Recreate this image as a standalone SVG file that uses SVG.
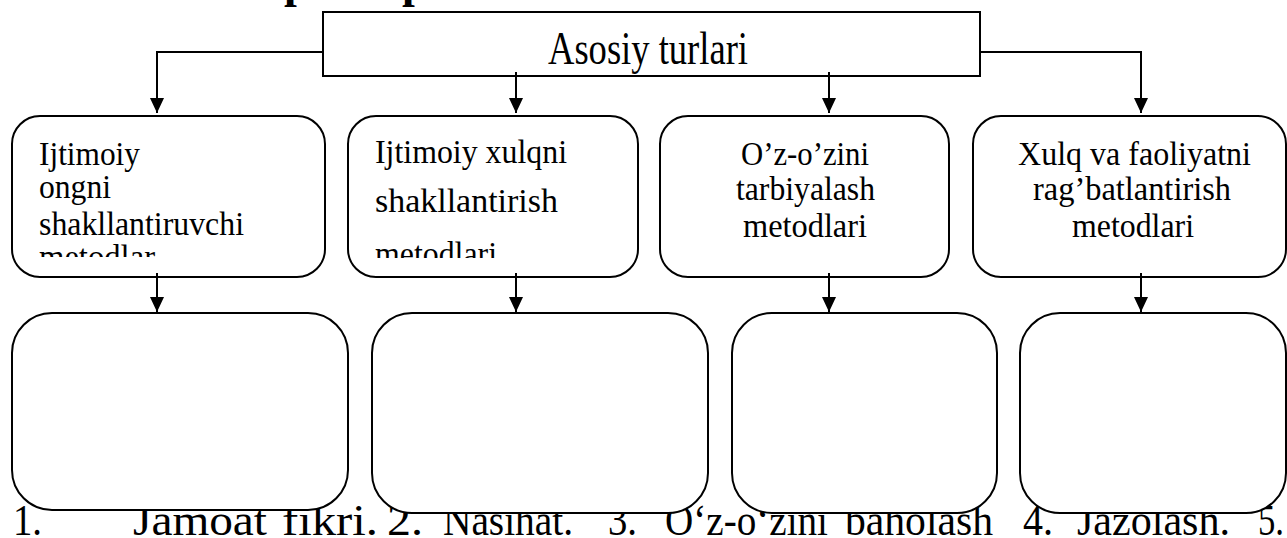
<svg xmlns="http://www.w3.org/2000/svg" width="1287" height="538" viewBox="0 0 1287 538">
<style>
.t{font-family:"Liberation Serif","Times New Roman",serif;fill:#000}
.r1{font-size:34px}
.bt{font-size:44px}
.box{fill:#fff;stroke:#000;stroke-width:2}
.ln{fill:none;stroke:#000;stroke-width:2;marker-end:url(#ah)}
</style>
<defs>
<marker id="ah" markerUnits="userSpaceOnUse" viewBox="0 0 15 14" markerWidth="15" markerHeight="14" refX="15" refY="7" orient="auto">
<path d="M0,0 L15,7 L0,14 z" fill="#000"/>
</marker>
<clipPath id="c1"><rect x="0" y="100" width="1287" height="157"/></clipPath>
<clipPath id="c2"><rect x="0" y="100" width="1287" height="158"/></clipPath>
</defs>
<rect width="1287" height="538" fill="#fff"/>

<g id="bottom-text" class="t bt">
<text x="13" y="535" textLength="29" lengthAdjust="spacingAndGlyphs">1.</text>
<text x="133" y="535" textLength="134" lengthAdjust="spacingAndGlyphs">Jamoat</text>
<text x="282" y="535" textLength="96" lengthAdjust="spacingAndGlyphs">fikri.</text>
<text x="387" y="535" textLength="36" lengthAdjust="spacingAndGlyphs">2.</text>
<text x="443" y="535" textLength="130" lengthAdjust="spacingAndGlyphs">Nasihat.</text>
<text x="608" y="535" textLength="29" lengthAdjust="spacingAndGlyphs">3.</text>
<text x="665" y="535" textLength="163" lengthAdjust="spacingAndGlyphs">O‘z-o‘zini</text>
<text x="845" y="535" textLength="148" lengthAdjust="spacingAndGlyphs">baholash</text>
<text x="1023" y="535" textLength="30" lengthAdjust="spacingAndGlyphs">4.</text>
<text x="1077" y="535" textLength="153" lengthAdjust="spacingAndGlyphs">Jazolash.</text>
<text x="1258" y="535" textLength="26" lengthAdjust="spacingAndGlyphs">5.</text>
</g>

<g id="heading-fragment" class="t" style="font-size:46px;font-weight:bold">
<text x="284" y="-3">p</text>
<text x="402" y="-3">p</text>
</g>

<g id="root">
<rect class="box" x="323" y="12" width="657" height="64"/>
<text class="t" x="548" y="64" style="font-size:46px" textLength="200" lengthAdjust="spacingAndGlyphs">Asosiy turlari</text>
</g>

<g id="n1">
<rect class="box" x="12" y="116" width="313" height="161" rx="28" ry="28"/>
<g class="t r1" clip-path="url(#c1)">
<text x="39" y="165" textLength="101" lengthAdjust="spacingAndGlyphs">Ijtimoiy</text>
<text x="39" y="198" textLength="72" lengthAdjust="spacingAndGlyphs">ongni</text>
<text x="39" y="235" textLength="205" lengthAdjust="spacingAndGlyphs">shakllantiruvchi</text>
<text x="39" y="268" textLength="116" lengthAdjust="spacingAndGlyphs">metodlar</text>
</g>
</g>

<g id="n2">
<rect class="box" x="348" y="116" width="290" height="161" rx="28" ry="28"/>
<g class="t r1" clip-path="url(#c2)">
<text x="375" y="163" textLength="192" lengthAdjust="spacingAndGlyphs">Ijtimoiy xulqni</text>
<text x="375" y="212" textLength="183" lengthAdjust="spacingAndGlyphs">shakllantirish</text>
<text x="375" y="265" textLength="122" lengthAdjust="spacingAndGlyphs">metodlari</text>
</g>
</g>

<g id="n3">
<rect class="box" x="660" y="116" width="289" height="161" rx="28" ry="28"/>
<g class="t r1">
<text x="741" y="165" textLength="128" lengthAdjust="spacingAndGlyphs">O’z-o’zini</text>
<text x="736" y="200" textLength="139" lengthAdjust="spacingAndGlyphs">tarbiyalash</text>
<text x="743" y="237" textLength="124" lengthAdjust="spacingAndGlyphs">metodlari</text>
</g>
</g>

<g id="n4">
<rect class="box" x="973" y="116" width="313" height="161" rx="28" ry="28"/>
<g class="t r1">
<text x="1018" y="165" textLength="233" lengthAdjust="spacingAndGlyphs">Xulq va faoliyatni</text>
<text x="1033" y="200" textLength="198" lengthAdjust="spacingAndGlyphs">rag’batlantirish</text>
<text x="1072" y="237" textLength="122" lengthAdjust="spacingAndGlyphs">metodlari</text>
</g>
</g>

<g id="m1"><rect class="box" x="12" y="313" width="336" height="197" rx="40" ry="40"/></g>
<g id="m2"><rect class="box" x="372" y="313" width="336" height="200" rx="40" ry="40"/></g>
<g id="m3"><rect class="box" x="732" y="313" width="265" height="200" rx="40" ry="40"/></g>
<g id="m4"><rect class="box" x="1020" y="313" width="266" height="200" rx="40" ry="40"/></g>

<g id="connectors">
<path class="ln" d="M323,52 H157 V113"/>
<path class="ln" d="M516,72 V113"/>
<path class="ln" d="M829,72 V113"/>
<path class="ln" d="M980,52 H1141 V113"/>
<path class="ln" d="M157,273 V312"/>
<path class="ln" d="M516,273 V312"/>
<path class="ln" d="M829,273 V312"/>
<path class="ln" d="M1141,273 V312"/>
</g>
</svg>
